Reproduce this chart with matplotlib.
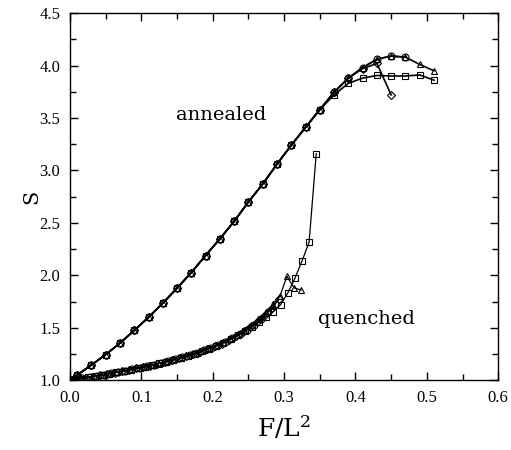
import numpy as np
import matplotlib
matplotlib.use("Agg")
import matplotlib.pyplot as plt
from matplotlib.ticker import MultipleLocator

# annealed branch, one series per marker
ann_x = [0.00, 0.01, 0.03, 0.05, 0.07, 0.09, 0.11, 0.13, 0.15, 0.17, 0.19,
         0.21, 0.23, 0.25, 0.27, 0.29, 0.31, 0.33, 0.35]
ann_s = [1.00, 1.05, 1.145, 1.245, 1.354, 1.475, 1.60, 1.735, 1.878, 2.027,
         2.189, 2.348, 2.515, 2.70, 2.87, 3.06, 3.24, 3.41, 3.58]

ann_circ_x = ann_x + [0.37, 0.39, 0.41, 0.43, 0.45, 0.47]
ann_circ_s = ann_s + [3.745, 3.88, 3.98, 4.06, 4.09, 4.08]
ann_tri_x = ann_x + [0.37, 0.39, 0.41, 0.43, 0.45, 0.47, 0.49, 0.51]
ann_tri_s = ann_s + [3.745, 3.88, 3.98, 4.06, 4.09, 4.08, 4.01, 3.95]
ann_dia_x = ann_x + [0.37, 0.39, 0.41, 0.43, 0.45]
ann_dia_s = ann_s + [3.745, 3.88, 3.97, 4.02, 3.72]
ann_sq_x = ann_x + [0.37, 0.39, 0.41, 0.43, 0.45, 0.47, 0.49, 0.51]
ann_sq_s = ann_s + [3.72, 3.83, 3.88, 3.905, 3.90, 3.90, 3.91, 3.86]

# quenched branch
q_sq_x = [0.005, 0.015, 0.025, 0.035, 0.045, 0.055, 0.065, 0.075, 0.085, 0.095,
          0.105, 0.115, 0.125, 0.135, 0.145, 0.155, 0.165, 0.175, 0.185, 0.195,
          0.205, 0.215, 0.225, 0.235, 0.245, 0.255, 0.265, 0.275, 0.285, 0.295,
          0.305, 0.315, 0.325, 0.335, 0.345]
q_sq_s = [1.005, 1.016, 1.027, 1.039, 1.051, 1.063, 1.075, 1.088, 1.102, 1.116,
          1.130, 1.145, 1.161, 1.177, 1.195, 1.213, 1.233, 1.254, 1.277, 1.301,
          1.328, 1.357, 1.390, 1.427, 1.465, 1.510, 1.555, 1.605, 1.655, 1.72,
          1.83, 1.97, 2.135, 2.316, 3.16]

q_tri_x = [0.004, 0.014, 0.024, 0.034, 0.044, 0.054, 0.064, 0.074, 0.084, 0.094,
           0.104, 0.114, 0.124, 0.134, 0.144, 0.154, 0.164, 0.174, 0.184, 0.194,
           0.204, 0.214, 0.224, 0.234, 0.244, 0.254, 0.264, 0.274, 0.284, 0.294,
           0.304, 0.314, 0.324]
q_tri_s = [1.004, 1.015, 1.026, 1.038, 1.050, 1.062, 1.074, 1.087, 1.100, 1.114,
           1.128, 1.143, 1.159, 1.176, 1.194, 1.212, 1.232, 1.254, 1.278, 1.303,
           1.330, 1.360, 1.395, 1.433, 1.476, 1.525, 1.580, 1.645, 1.715, 1.80,
           1.99, 1.88, 1.86]

q_circ_x = [0.0075, 0.0175, 0.0275, 0.0375, 0.0475, 0.0575, 0.0675, 0.0775,
            0.0875, 0.0975, 0.1075, 0.1175, 0.1275, 0.1375, 0.1475, 0.1575,
            0.1675, 0.1775, 0.1875, 0.1975, 0.2075, 0.2175, 0.2275, 0.2375,
            0.2475, 0.2575, 0.2675, 0.2775, 0.2875]
q_circ_s = [1.008, 1.019, 1.030, 1.042, 1.054, 1.066, 1.078, 1.092, 1.105, 1.120,
            1.134, 1.149, 1.165, 1.182, 1.200, 1.219, 1.239, 1.260, 1.284, 1.309,
            1.336, 1.366, 1.400, 1.438, 1.480, 1.528, 1.585, 1.650, 1.725]

q_dia_x = [0.0025, 0.0125, 0.0225, 0.0325, 0.0425, 0.0525, 0.0625, 0.0725,
           0.0825, 0.0925, 0.1025, 0.1125, 0.1225, 0.1325, 0.1425, 0.1525,
           0.1625, 0.1725, 0.1825, 0.1925, 0.2025, 0.2125, 0.2225, 0.2325,
           0.2425, 0.2525, 0.2625, 0.2725, 0.2825, 0.2925]
q_dia_s = [1.002, 1.012, 1.023, 1.035, 1.048, 1.060, 1.072, 1.085, 1.098, 1.112,
           1.126, 1.140, 1.156, 1.173, 1.190, 1.208, 1.228, 1.249, 1.271, 1.296,
           1.322, 1.350, 1.382, 1.418, 1.458, 1.503, 1.555, 1.615, 1.685, 1.77]

plt.rcParams['font.family'] = ['DejaVu Serif']
plt.rcParams['mathtext.fontset'] = 'dejavuserif'

fig = plt.figure(figsize=(5.11, 4.5), dpi=100)
ax = fig.add_axes([0.137, 0.155, 0.838, 0.816])

def style(lw, ms):
    return dict(color="black", markerfacecolor="none", markersize=ms,
                markeredgewidth=0.8, linewidth=lw)

# annealed: heavier lines, they overlap
ax.plot(ann_sq_x, ann_sq_s, marker="s", **style(1.2, 5))
ax.plot(ann_tri_x, ann_tri_s, marker="^", **style(1.2, 5))
ax.plot(ann_dia_x, ann_dia_s, marker="D", **style(1.2, 4))
ax.plot(ann_circ_x, ann_circ_s, marker="o", **style(1.2, 5))

ax.plot(q_sq_x, q_sq_s, marker="s", **style(0.9, 5))
ax.plot(q_tri_x, q_tri_s, marker="^", **style(0.9, 5))
ax.plot(q_dia_x, q_dia_s, marker="D", **style(0.9, 4))
ax.plot(q_circ_x, q_circ_s, marker="o", **style(0.9, 5))

ax.text(0.148, 3.53, "annealed", fontsize=14, va="center", ha="left")
ax.text(0.347, 1.58, "quenched", fontsize=14, va="center", ha="left")

ax.set_xlim(0, 0.6)
ax.set_ylim(1.0, 4.5)
ax.xaxis.set_major_locator(MultipleLocator(0.1))
ax.xaxis.set_minor_locator(MultipleLocator(0.05))
ax.yaxis.set_major_locator(MultipleLocator(0.5))
ax.yaxis.set_minor_locator(MultipleLocator(0.25))
ax.tick_params(which="both", direction="in", top=True, right=True)
ax.tick_params(which="major", length=6, width=1)
ax.tick_params(which="minor", length=4, width=1)
ax.tick_params(axis="x", pad=7)
ax.tick_params(axis="y", pad=7)
for lab in ax.get_xticklabels() + ax.get_yticklabels():
    lab.set_family("Liberation Serif")
    lab.set_fontsize(12)
for sp in ax.spines.values():
    sp.set_linewidth(1.0)

ax.set_xlabel("F/L$^2$", fontsize=18, labelpad=6)
ax.set_ylabel("S", fontsize=15)
ax.yaxis.set_label_coords(-0.068, 0.5)

fig.savefig("out.png", dpi=100)
